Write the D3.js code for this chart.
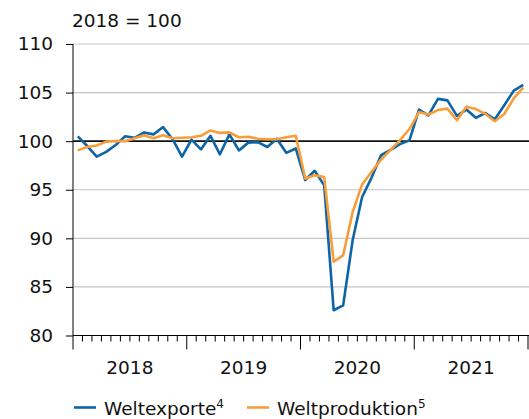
<!DOCTYPE html>
<html>
<head>
<meta charset="utf-8">
<script src="https://cdn.jsdelivr.net/npm/d3@7"></script>
<style>
  html, body { margin: 0; padding: 0; background: #fff; }
  svg { display: block; font-family: "DejaVu Sans", sans-serif; }
</style>
</head>
<body>
<svg id="chart" width="529" height="419"></svg>
<script>
// monthly index values, Jan 2018 - Dec 2021 (2018 = 100)
const years = ["2018", "2019", "2020", "2021"];
const exports = [
  100.5, 99.5, 98.4, 98.9, 99.6, 100.5, 100.35, 100.9, 100.7, 101.45, 100.2, 98.4,
  100.15, 99.15, 100.55, 98.65, 100.7, 99.05, 99.85, 99.9, 99.4, 100.25, 98.8, 99.25,
  96.0, 96.95, 95.45, 82.6, 83.1, 89.8, 94.25, 96.25, 98.55, 99.1, 99.7, 100.1,
  103.25, 102.65, 104.35, 104.2, 102.6, 103.25, 102.4, 102.9, 102.25, 103.7, 105.2, 105.8
];
const production = [
  99.05, 99.4, 99.55, 99.95, 100.0, 100.0, 100.3, 100.6, 100.3, 100.6, 100.3, 100.35,
  100.4, 100.55, 101.1, 100.85, 100.9, 100.4, 100.45, 100.25, 100.2, 100.2, 100.4, 100.55,
  96.15, 96.5, 96.3, 87.6, 88.25, 92.7, 95.55, 96.85, 98.1, 99.1, 100.1, 101.25,
  103.0, 102.75, 103.2, 103.35, 102.15, 103.55, 103.3, 102.8, 102.05, 102.8, 104.4, 105.5
];
const yTicks = [80, 85, 90, 95, 100, 105, 110];
const series = [
  { name: "Weltexporte", sup: "4", values: exports, color: "#0d64a6" },
  { name: "Weltproduktion", sup: "5", values: production, color: "#f89d3a" }
];

const svg = d3.select("#chart");
const x = d3.scaleLinear().domain([0, years.length * 12]).range([73, 528]);
const y = d3.scaleLinear().domain([80, 110]).range([335.5, 44]);
const left = x.range()[0], right = x.range()[1];

// gridlines
svg.append("g").selectAll("line")
  .data(yTicks.filter(t => t !== 80 && t !== 100))
  .join("line")
  .attr("x1", left).attr("x2", 529)
  .attr("y1", d => y(d)).attr("y2", d => y(d))
  .attr("stroke", "#c4c4c4").attr("stroke-width", 1.2);

// y axis
const yAxis = svg.append("g")
  .attr("transform", `translate(${left},0)`)
  .call(d3.axisLeft(y).tickValues(yTicks).tickSize(7).tickPadding(13));
yAxis.select(".domain").attr("stroke", "#000").attr("d", `M0,${y(110)}V${y(80)}`);
yAxis.selectAll(".tick line").attr("stroke", "#000");
yAxis.selectAll("text").attr("font-size", 18.5).attr("fill", "#111")
  .attr("font-family", "DejaVu Sans");

// x axis: month ticks, longer at year start
const months = d3.range(0, years.length * 12 + 1);
const xg = svg.append("g");
xg.append("line")
  .attr("x1", left).attr("x2", 529)
  .attr("y1", y(80)).attr("y2", y(80))
  .attr("stroke", "#000");
xg.selectAll("line.tick").data(months).join("line")
  .attr("class", "tick")
  .attr("x1", d => x(d)).attr("x2", d => x(d))
  .attr("y1", y(80)).attr("y2", d => y(80) + (d % 12 === 0 ? 14 : 6))
  .attr("stroke", "#000");
xg.selectAll("text").data(years).join("text")
  .attr("x", (d, i) => x(i * 12 + 6))
  .attr("y", 374)
  .attr("text-anchor", "middle")
  .attr("font-size", 18.5).attr("fill", "#111")
  .text(d => d);

// reference line at 100
svg.append("line")
  .attr("x1", left).attr("x2", 529)
  .attr("y1", y(100)).attr("y2", y(100))
  .attr("stroke", "#111").attr("stroke-width", 1.8);

// series
const line = d3.line().x((d, i) => x(i + 0.5)).y(d => y(d));
svg.append("g").selectAll("path").data(series).join("path")
  .attr("d", d => line(d.values))
  .attr("fill", "none")
  .attr("stroke", d => d.color)
  .attr("stroke-width", 2.6)
  .attr("stroke-linejoin", "round");

// unit label
svg.append("text")
  .attr("x", 72).attr("y", 27)
  .attr("font-size", 18.5).attr("fill", "#111")
  .text("2018 = 100");

// legend
const legendX = [74, 247];
const lg = svg.append("g").selectAll("g").data(series).join("g")
  .attr("transform", (d, i) => `translate(${legendX[i]},407.5)`);
lg.append("line")
  .attr("x1", 0).attr("x2", 22)
  .attr("stroke", d => d.color).attr("stroke-width", 2.6);
const lt = lg.append("text")
  .attr("x", 30).attr("y", 7.5)
  .attr("font-size", 18.5).attr("fill", "#111");
lt.append("tspan").text(d => d.name);
lt.append("tspan").attr("font-size", 12).attr("dy", -7).text(d => d.sup);
</script>
</body>
</html>
